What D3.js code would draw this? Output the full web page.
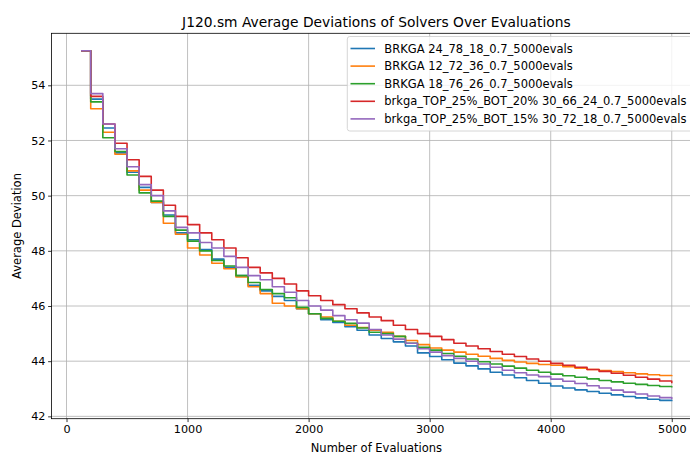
<!DOCTYPE html>
<html>
<head>
<meta charset="utf-8">
<script src="https://cdn.jsdelivr.net/npm/d3@7"></script>
<style>
  html, body { margin: 0; padding: 0; background: #fff; }
  svg { display: block; font-family: "DejaVu Sans", sans-serif; }
</style>
</head>
<body>
<svg id="chart" width="690" height="453"></svg>
<script>
// ---- data ----
const evaluations = [120, 200, 300, 400, 500, 600, 700, 800, 900, 1000,
  1100, 1200, 1300, 1400, 1500, 1600, 1700, 1800, 1900, 2000,
  2100, 2200, 2300, 2400, 2500, 2600, 2700, 2800, 2900, 3000,
  3100, 3200, 3300, 3400, 3500, 3600, 3700, 3800, 3900, 4000,
  4100, 4200, 4300, 4400, 4500, 4600, 4700, 4800, 4900, 5000];

const seriesNames = [
  "BRKGA 24_78_18_0.7_5000evals",
  "BRKGA 12_72_36_0.7_5000evals",
  "BRKGA 18_76_26_0.7_5000evals",
  "brkga_TOP_25%_BOT_20% 30_66_24_0.7_5000evals",
  "brkga_TOP_25%_BOT_15% 30_72_18_0.7_5000evals"
];

const brkga_24_78_18 = [55.25, 53.5, 52.45, 51.55, 50.85, 50.3, 49.75, 49.3, 48.65, 48.4,
  48.05, 47.7, 47.4, 47.1, 46.75, 46.55, 46.35, 46.2, 45.9, 45.72,
  45.5, 45.4, 45.25, 45.12, 44.95, 44.82, 44.7, 44.55, 44.3, 44.17,
  44.05, 43.93, 43.83, 43.72, 43.6, 43.5, 43.4, 43.3, 43.2, 43.1,
  43.03, 42.96, 42.9, 42.84, 42.78, 42.72, 42.67, 42.62, 42.58, 42.55];

const brkga_12_72_36 = [55.25, 53.15, 52.3, 51.5, 50.9, 50.2, 49.75, 49.0, 48.6, 48.1,
  47.85, 47.55, 47.35, 47.05, 46.7, 46.45, 46.1, 46.0, 45.9, 45.72,
  45.6, 45.45, 45.3, 45.22, 45.12, 45.05, 44.9, 44.75, 44.6, 44.48,
  44.4, 44.33, 44.25, 44.18, 44.1, 44.03, 43.97, 43.92, 43.88, 43.85,
  43.8, 43.75, 43.7, 43.66, 43.62, 43.58, 43.54, 43.51, 43.48, 43.45];

const brkga_18_76_26 = [55.25, 53.4, 52.1, 51.6, 50.75, 50.1, 49.8, 49.25, 48.75, 48.35,
  48.0, 47.65, 47.45, 47.1, 46.85, 46.6, 46.45, 46.3, 45.95, 45.72,
  45.55, 45.45, 45.37, 45.2, 45.05, 45.0, 44.9, 44.65, 44.5, 44.4,
  44.28, 44.18, 44.08, 43.98, 43.9, 43.82, 43.75, 43.67, 43.6, 43.53,
  43.47, 43.42, 43.36, 43.3, 43.25, 43.2, 43.16, 43.12, 43.08, 43.05];

const top25_bot20 = [55.25, 53.6, 52.6, 51.9, 51.3, 50.7, 50.2, 49.65, 49.25, 48.95,
  48.65, 48.4, 48.1, 47.75, 47.4, 47.2, 47.0, 46.8, 46.55, 46.37,
  46.2, 46.05, 45.9, 45.75, 45.6, 45.47, 45.3, 45.15, 45.0, 44.9,
  44.78, 44.65, 44.55, 44.45, 44.35, 44.25, 44.17, 44.08, 44.0, 43.92,
  43.85, 43.78, 43.7, 43.63, 43.56, 43.49, 43.42, 43.35, 43.28, 43.2];

const top25_bot15 = [55.25, 53.7, 52.6, 51.7, 51.05, 50.4, 50.0, 49.45, 48.85, 48.65,
  48.3, 48.1, 47.8, 47.4, 47.1, 46.95, 46.7, 46.5, 46.2, 46.0,
  45.85, 45.65, 45.5, 45.38, 45.15, 44.95, 44.8, 44.65, 44.45, 44.33,
  44.2, 44.1, 44.0, 43.9, 43.78, 43.67, 43.58, 43.5, 43.44, 43.35,
  43.27, 43.19, 43.11, 43.03, 42.95, 42.88, 42.81, 42.74, 42.68, 42.62];

const xTicks = [0, 1000, 2000, 3000, 4000, 5000];
const yTicks = [42, 44, 46, 48, 50, 52, 54];

const titleText = "J120.sm Average Deviations of Solvers Over Evaluations";
const xLabel = "Number of Evaluations";
const yLabel = "Average Deviation";

// ---- drawing ----
const allSeries = [brkga_24_78_18, brkga_12_72_36, brkga_18_76_26, top25_bot20, top25_bot15];
const colors = ["#1f77b4", "#ff7f0e", "#2ca02c", "#d62728", "#9467bd"];

const W = 690, H = 453;
const plot = { left: 51.5, right: 701.3, top: 33.3, bottom: 418.7 };

const svg = d3.select("#chart");
svg.append("rect").attr("width", W).attr("height", H).attr("fill", "#fff");

// matplotlib-like 5% margins
const xMin = d3.min(evaluations), xMax = d3.max(evaluations);
const allVals = allSeries.flat();
const yMin = d3.min(allVals), yMax = d3.max(allVals);
const xPad = (xMax - xMin) * 0.05, yPad = (yMax - yMin) * 0.05;

const x = d3.scaleLinear().domain([xMin - xPad, xMax + xPad]).range([plot.left, plot.right]);
const y = d3.scaleLinear().domain([yMin - yPad, yMax + yPad]).range([plot.bottom, plot.top]);

const tickFont = 11.2;
const labelFont = 11.5;

// grid
const grid = svg.append("g");
grid.selectAll(".gx").data(xTicks).enter().append("line")
  .attr("x1", d => x(d)).attr("x2", d => x(d))
  .attr("y1", plot.top).attr("y2", plot.bottom)
  .attr("stroke", "#b0b0b0").attr("stroke-width", 0.8);
grid.selectAll(".gy").data(yTicks).enter().append("line")
  .attr("y1", d => y(d)).attr("y2", d => y(d))
  .attr("x1", plot.left).attr("x2", plot.right)
  .attr("stroke", "#b0b0b0").attr("stroke-width", 0.8);

// lines
const line = d3.line()
  .x((d, i) => x(evaluations[i]))
  .y(d => y(d))
  .curve(d3.curveStepAfter);

svg.append("g").selectAll("path").data(allSeries).enter().append("path")
  .attr("d", d => line(d))
  .attr("fill", "none")
  .attr("stroke", (d, i) => colors[i])
  .attr("stroke-width", 1.6)
  .attr("stroke-linejoin", "round");

// axes
const xAxis = d3.axisBottom(x).tickValues(xTicks).tickSize(3.4).tickPadding(2.6).tickFormat(d3.format("d"));
const yAxis = d3.axisLeft(y).tickValues(yTicks).tickSize(3.4).tickPadding(2.6).tickFormat(d3.format("d"));

const gx = svg.append("g").attr("transform", `translate(0,${plot.bottom})`).call(xAxis);
const gy = svg.append("g").attr("transform", `translate(${plot.left},0)`).call(yAxis);
[gx, gy].forEach(g => {
  g.select(".domain").remove();
  g.selectAll("line").attr("stroke", "#000").attr("stroke-width", 0.8);
  g.selectAll("text").attr("fill", "#000").attr("font-size", tickFont)
    .attr("font-family", "DejaVu Sans, sans-serif");
});

// spines
svg.append("rect")
  .attr("x", plot.left).attr("y", plot.top)
  .attr("width", plot.right - plot.left).attr("height", plot.bottom - plot.top)
  .attr("fill", "none").attr("stroke", "#000").attr("stroke-width", 0.8);

// title & labels
const cx = (plot.left + plot.right) / 2;
svg.append("text").attr("x", cx).attr("y", 26.5)
  .attr("text-anchor", "middle").attr("font-size", 13.8).attr("fill", "#000")
  .text(titleText);
svg.append("text").attr("x", cx).attr("y", 451.5)
  .attr("text-anchor", "middle").attr("font-size", labelFont).attr("fill", "#000")
  .text(xLabel);
svg.append("text")
  .attr("transform", `translate(21,${(plot.top + plot.bottom) / 2}) rotate(-90)`)
  .attr("text-anchor", "middle").attr("font-size", labelFont).attr("fill", "#000")
  .text(yLabel);

// legend
const leg = { left: 347.3, top: 36.5, rowH: 17.6, firstRow: 48.5 };
const legG = svg.append("g");
legG.append("rect")
  .attr("x", leg.left).attr("y", leg.top)
  .attr("width", plot.right - 4 - leg.left).attr("height", 94.5)
  .attr("rx", 2.5).attr("ry", 2.5)
  .attr("fill", "#fff").attr("fill-opacity", 0.8)
  .attr("stroke", "#cccccc").attr("stroke-width", 0.8);
const rows = legG.selectAll(".row").data(seriesNames).enter().append("g")
  .attr("transform", (d, i) => `translate(0,${leg.firstRow + i * leg.rowH})`);
rows.append("line")
  .attr("x1", 350.5).attr("x2", 375)
  .attr("y1", 0).attr("y2", 0)
  .attr("stroke", (d, i) => colors[i]).attr("stroke-width", 1.6);
rows.append("text")
  .attr("x", 384.3).attr("y", 0).attr("dy", "0.35em")
  .attr("font-size", labelFont).attr("fill", "#000")
  .text(d => d);
</script>
</body>
</html>
